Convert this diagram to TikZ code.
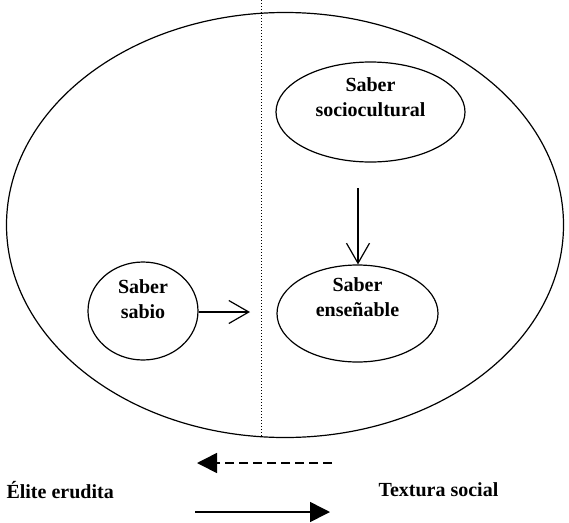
\documentclass[tikz,border=0pt]{standalone}
\usepackage{fontspec}
\setmainfont{Liberation Serif}
\usetikzlibrary{shapes.geometric,arrows.meta}

\tikzset{
  saber/.style={draw, ellipse, line width=1.2pt, inner sep=0pt},
  sabertext/.style={align=center, inner sep=0pt, font=\bfseries\fontsize{20}{25}\selectfont},
  open/.style={-{Straight Barb[length=20pt,width=23pt]}, line width=1.2pt},
  flow/.style={-{Triangle[length=20pt,width=20pt]}, line width=1.6pt},
  sidetext/.style={font=\bfseries\fontsize{20}{24}\selectfont}
}

\begin{document}
\begin{tikzpicture}[x=1pt,y=-1pt]
\useasboundingbox (0,0) rectangle (569,522);

\node[draw, ellipse, line width=1.2pt, minimum width=557, minimum height=425, inner sep=0pt] (world) at (285,225) {};

\coordinate (top) at (261,0);
\coordinate (bottom) at (261,437);
\draw[dotted, line width=1pt] (top) -- (bottom);

\node[saber, minimum width=189, minimum height=100,
  label={[sabertext, yshift=15pt]center:{Saber\\sociocultural}}] (socio) at (370.5,112) {};
\node[saber, minimum width=161, minimum height=97,
  label={[sabertext, yshift=16pt]center:{Saber\\enseñable}}] (ense) at (357.5,313.5) {};
\node[saber, minimum width=110, minimum height=98,
  label={[sabertext, yshift=12pt]center:{Saber\\sabio}}] (sabio) at (143,311) {};

\coordinate (tip) at (250,312);
\coordinate (start) at (358,188);
\draw[open] (sabio.east |- tip) -- (tip);
\draw[open] (start) -- (start |- ense.north);

\node[sidetext, anchor=west] (elite) at (3,490) {Élite erudita};
\node[sidetext, anchor=west] (textura) at (375,490) {Textura social};

\coordinate (d1) at (332,463);
\coordinate (d2) at (197,463);
\coordinate (s1) at (195,512);
\coordinate (s2) at (330,512);
\draw[flow, dashed, dash pattern=on 9pt off 5pt] (d1) -- (d2);
\draw[flow] (s1) -- (s2);

\end{tikzpicture}
\end{document}
